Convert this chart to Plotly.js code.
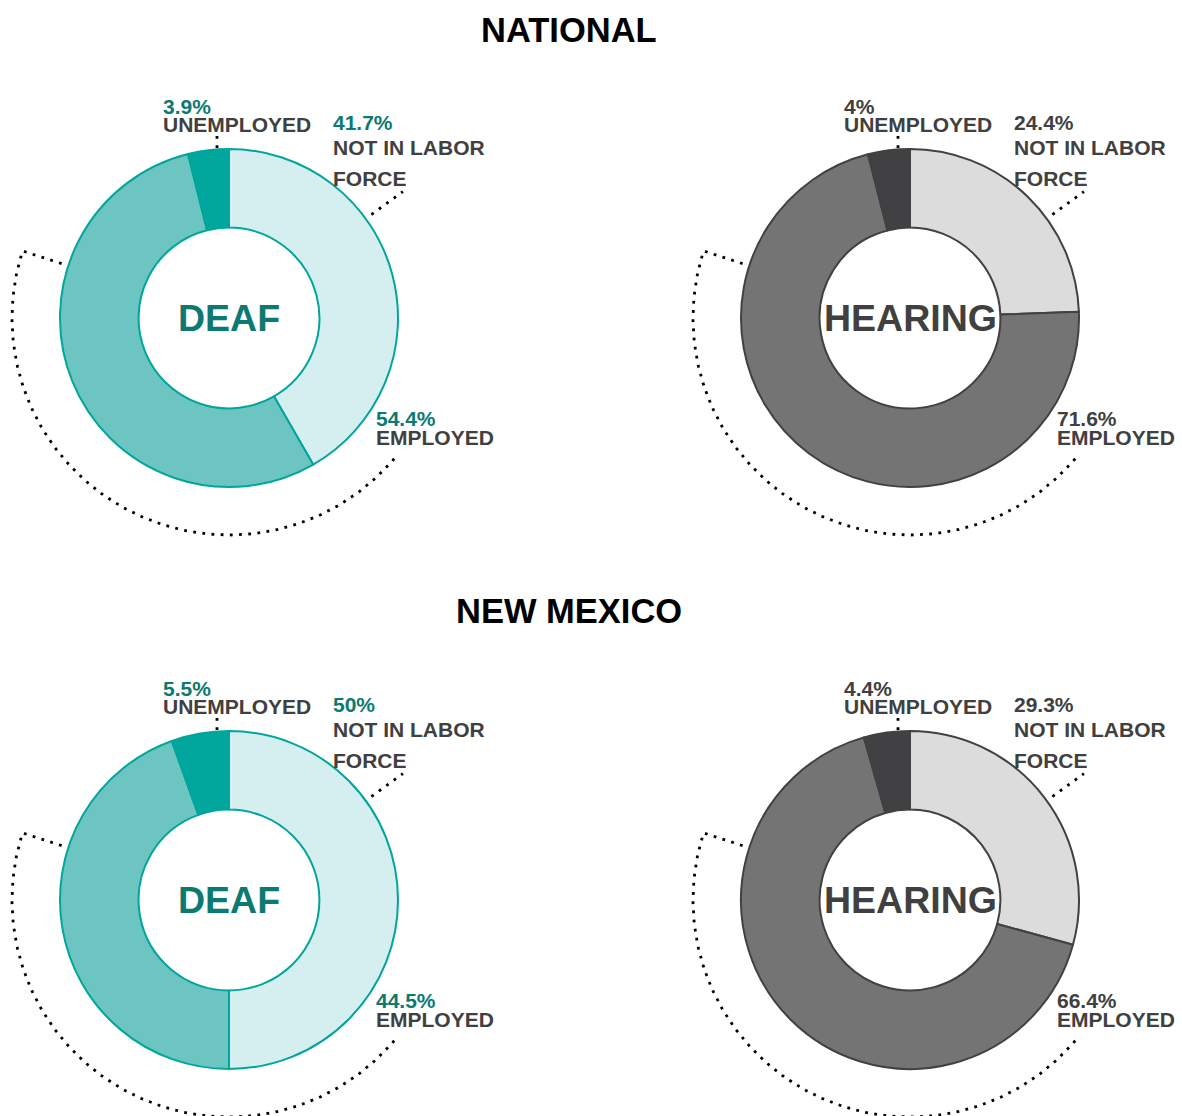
<!DOCTYPE html>
<html>
<head>
<meta charset="utf-8">
<script src="https://cdn.plot.ly/plotly-3.0.1.min.js"></script>
<style>html,body{margin:0;padding:0;background:#fff;}#chart{width:1182px;height:1116px;}</style>
</head>
<body>
<div id="chart"></div>
<script>
// ---- data ----
const regions = ['NATIONAL', 'NEW MEXICO'];
const populations = ['DEAF', 'HEARING'];
const statuses = ['NOT IN LABOR FORCE', 'EMPLOYED', 'UNEMPLOYED'];
const nationalDeaf = [41.7, 54.4, 3.9];
const nationalHearing = [24.4, 71.6, 4];
const newMexicoDeaf = [50, 44.5, 5.5];
const newMexicoHearing = [29.3, 66.4, 4.4];

// ---- styling / layout ----
const W = 1182, H = 1116;
const FONT = 'Arial, "Liberation Sans", sans-serif';
const TEAL_TEXT = '#0c7a70';
const GRAY_TEXT = '#404040';
const palettes = {
  DEAF: {fill: ['#d5eef0', '#6cc5c0', '#00a69c'], line: '#00a69c', pct: TEAL_TEXT, center: TEAL_TEXT},
  HEARING: {fill: ['#dcdcdc', '#747474', '#414143'], line: '#414141', pct: GRAY_TEXT, center: GRAY_TEXT}
};
const colX = [229, 910];
const rowY = [318, 900];
const titleY = [30, 611];
const R = 169;
const HOLE = 0.535;

const values = [[nationalDeaf, nationalHearing], [newMexicoDeaf, newMexicoHearing]];

const traces = [];
const annotations = [];

function pt(cx, cy, r, deg) {
  const a = deg * Math.PI / 180;
  return [cx + r * Math.sin(a), cy - r * Math.cos(a)];
}

regions.forEach((reg, ri) => {
  annotations.push({
    xref: 'x', yref: 'y', x: 569, y: titleY[ri], text: '<b>' + reg + '</b>',
    showarrow: false, xanchor: 'center', yanchor: 'middle', borderpad: 0,
    font: {family: FONT, size: 34.5, color: '#000'}
  });
  populations.forEach((pop, pi) => {
    const v = values[ri][pi];
    const pal = palettes[pop];
    const cx = colX[pi], cy = rowY[ri];
    traces.push({
      type: 'pie', values: v, labels: statuses, sort: false, direction: 'clockwise', rotation: 0,
      hole: HOLE, textinfo: 'none', showlegend: false,
      marker: {colors: pal.fill, line: {color: pal.line, width: 2}},
      domain: {x: [(cx - R) / W, (cx + R) / W], y: [(H - cy - R) / H, (H - cy + R) / H]}
    });
    // center label
    annotations.push({
      xref: 'x', yref: 'y', x: cx, y: cy, text: '<b>' + pop + '</b>', showarrow: false,
      xanchor: 'center', yanchor: 'middle', borderpad: 0,
      font: {family: FONT, size: 37.5, color: pal.center}
    });
    const lab = (x, y, t, c) => annotations.push({
      xref: 'x', yref: 'y', x: x, y: y, text: '<b>' + t + '</b>', showarrow: false,
      xanchor: 'left', yanchor: 'middle', borderpad: 0,
      font: {family: FONT, size: 21, color: c}
    });
    // unemployed
    lab(cx - 67, cy - 212, v[2] + '%', pal.pct);
    lab(cx - 67, cy - 194, 'UNEMPLOYED', GRAY_TEXT);
    // not in labor force
    lab(cx + 103, cy - 196, v[0] + '%', pal.pct);
    lab(cx + 103, cy - 171, 'NOT IN LABOR', GRAY_TEXT);
    lab(cx + 103, cy - 140, 'FORCE', GRAY_TEXT);
    // employed
    lab(cx + 146, cy + 100, v[1] + '%', pal.pct);
    lab(cx + 146, cy + 119, 'EMPLOYED', GRAY_TEXT);

    // dotted bracket arc
    const xs = [], ys = [];
    let p = pt(cx, cy, 176, 288); xs.push(p[0]); ys.push(p[1]);
    for (let d = 288; d >= 129; d -= 1) { p = pt(cx, cy, 217, d); xs.push(p[0]); ys.push(p[1]); }
    xs.push(null); ys.push(null);
    p = pt(cx, cy, 176, 54); xs.push(p[0]); ys.push(p[1]);
    p = pt(cx, cy, 215, 54); xs.push(p[0]); ys.push(p[1]);
    xs.push(null); ys.push(null);
    xs.push(cx - 12, cx - 12); ys.push(cy - 170, cy - 183);
    traces.push({
      type: 'scatter', mode: 'lines', x: xs, y: ys, hoverinfo: 'skip', showlegend: false,
      line: {color: '#000', width: 2.8, dash: '2.8px,6.4px'}
    });
  });
});

const layout = {
  width: W, height: H, margin: {l: 0, r: 0, t: 0, b: 0},
  paper_bgcolor: '#fff', plot_bgcolor: 'rgba(0,0,0,0)',
  xaxis: {range: [0, W], visible: false, fixedrange: true},
  yaxis: {range: [H, 0], visible: false, fixedrange: true},
  annotations: annotations, showlegend: false
};
Plotly.newPlot('chart', traces, layout, {displayModeBar: false, staticPlot: true});
</script>
</body>
</html>
